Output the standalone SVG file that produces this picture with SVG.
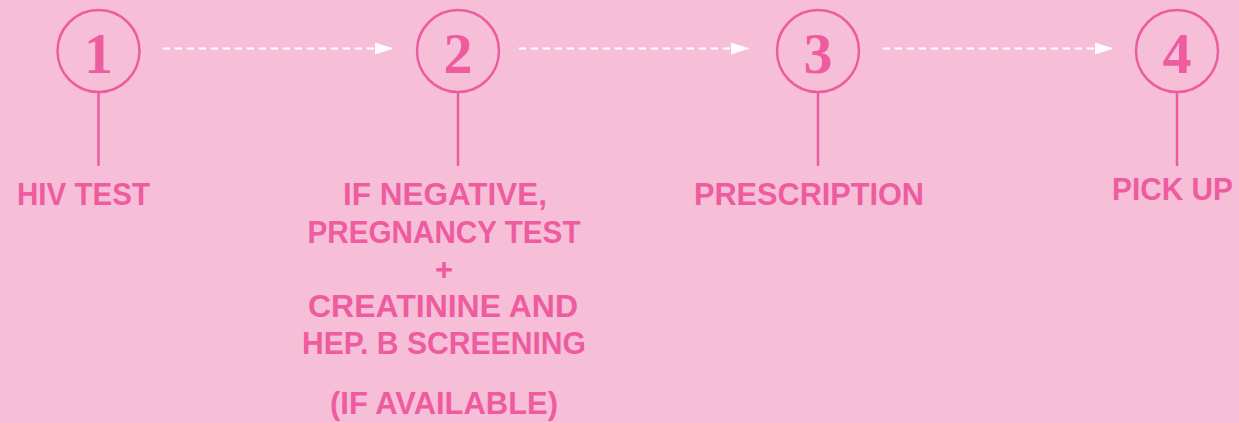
<svg xmlns="http://www.w3.org/2000/svg" width="1239" height="423" viewBox="0 0 1239 423">
<style>
.bg{fill:#F6BFD7}
.ring{fill:none;stroke:#EE5C9F;stroke-width:2.5}
.stem{stroke:#EE5C9F;stroke-width:2.5}
.num{font-family:"Liberation Serif","DejaVu Serif",serif;font-weight:bold;font-size:58px;fill:#EE5C9F;text-anchor:middle}
.lbl{font-family:"Liberation Sans",Arial,sans-serif;font-weight:bold;font-size:31px;fill:#EE5C9F;text-anchor:middle}
.flow{stroke:#FFFFFF;stroke-width:2;stroke-dasharray:7 5;fill:none}
</style>
<defs>
<marker id="ah" markerWidth="18" markerHeight="12" refX="17" refY="6" orient="auto" markerUnits="userSpaceOnUse">
<path d="M0,0 L18,6 L0,12 Z" fill="#FFFFFF"/>
</marker>
</defs>
<rect class="bg" x="0" y="0" width="1239" height="423"/>
<g id="connectors">
<line class="flow" x1="163" y1="48.5" x2="392" y2="48.5" marker-end="url(#ah)"/>
<line class="flow" x1="519" y1="48.5" x2="748" y2="48.5" marker-end="url(#ah)"/>
<line class="flow" x1="883" y1="48.5" x2="1112" y2="48.5" marker-end="url(#ah)"/>
</g>
<g id="step1">
<circle class="ring" cx="98.5" cy="51" r="41"/>
<text class="num" x="98.5" y="73">1</text>
<line class="stem" x1="98.5" y1="92" x2="98.5" y2="166"/>
<text class="lbl" x="83.5" y="205" textLength="133" lengthAdjust="spacingAndGlyphs">HIV TEST</text>
</g>
<g id="step2">
<circle class="ring" cx="458" cy="51" r="41"/>
<text class="num" x="458" y="73">2</text>
<line class="stem" x1="458" y1="92" x2="458" y2="166"/>
<text class="lbl" x="445" y="205" textLength="204" lengthAdjust="spacingAndGlyphs">IF NEGATIVE,</text>
<text class="lbl" x="444" y="243" textLength="273" lengthAdjust="spacingAndGlyphs">PREGNANCY TEST</text>
<text class="lbl" x="444" y="280" font-size="24">+</text>
<text class="lbl" x="443" y="317" textLength="270" lengthAdjust="spacingAndGlyphs">CREATININE AND</text>
<text class="lbl" x="444" y="354" textLength="284" lengthAdjust="spacingAndGlyphs">HEP. B SCREENING</text>
<text class="lbl" x="444" y="414" textLength="228" lengthAdjust="spacingAndGlyphs">(IF AVAILABLE)</text>
</g>
<g id="step3">
<circle class="ring" cx="818" cy="51" r="41"/>
<text class="num" x="818" y="73">3</text>
<line class="stem" x1="818" y1="92" x2="818" y2="166"/>
<text class="lbl" x="809" y="205" textLength="230" lengthAdjust="spacingAndGlyphs">PRESCRIPTION</text>
</g>
<g id="step4">
<circle class="ring" cx="1177" cy="51" r="41"/>
<text class="num" x="1177" y="73">4</text>
<line class="stem" x1="1177" y1="92" x2="1177" y2="166"/>
<text class="lbl" x="1172.5" y="200" textLength="121" lengthAdjust="spacingAndGlyphs">PICK UP</text>
</g>
</svg>
